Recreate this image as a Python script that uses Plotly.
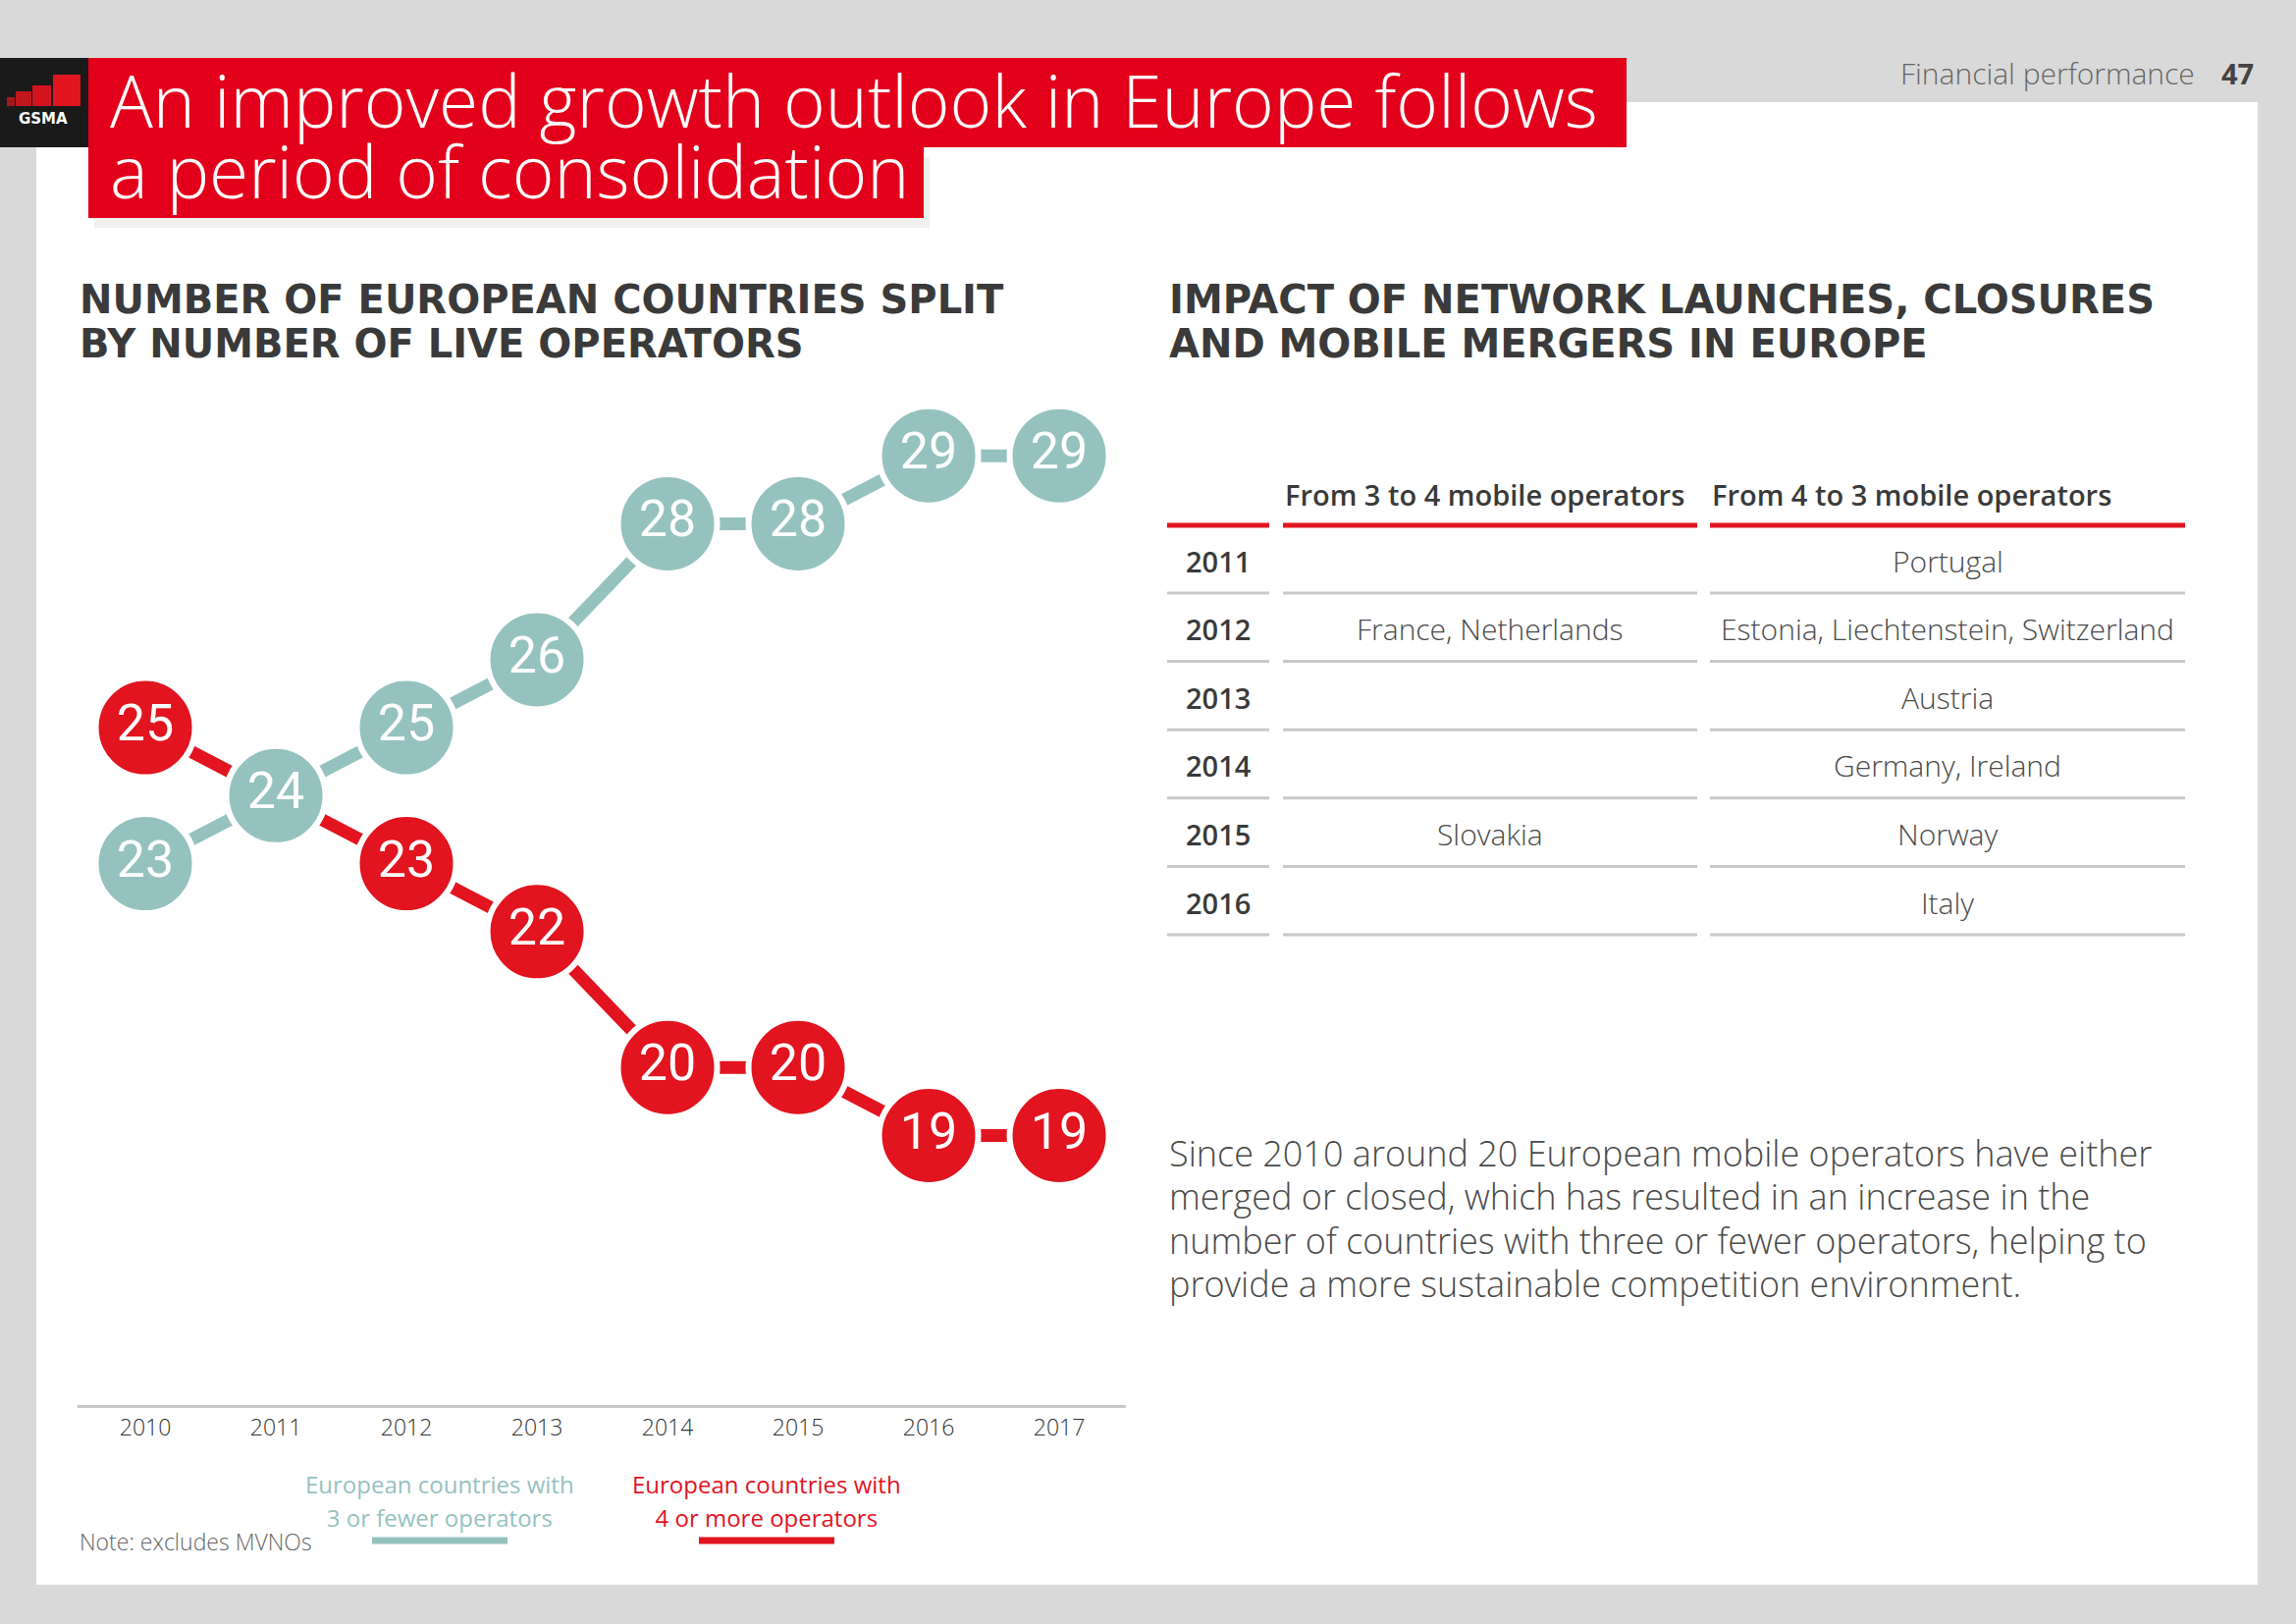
import plotly.graph_objects as go

W, H = 2339, 1654

# --- data ---
years = [2010, 2011, 2012, 2013, 2014, 2015, 2016, 2017]
fewer_ops = [23, 24, 25, 26, 28, 28, 29, 29]   # 3 or fewer operators
more_ops = [25, 24, 23, 22, 20, 20, 19, 19]    # 4 or more operators

table_years = ["2011", "2012", "2013", "2014", "2015", "2016"]
from_3_to_4 = ["", "France, Netherlands", "", "", "Slovakia", ""]
from_4_to_3 = ["Portugal", "Estonia, Liechtenstein, Switzerland", "Austria",
               "Germany, Ireland", "Norway", "Italy"]
table_headers = ["From 3 to 4 mobile operators", "From 4 to 3 mobile operators"]

title_lines = ["An improved growth outlook in Europe follows", "a period of consolidation"]
body_lines = [
    "Since 2010 around 20 European mobile operators have either",
    "merged or closed, which has resulted in an increase in the",
    "number of countries with three or fewer operators, helping to",
    "provide a more sustainable competition environment.",
]

RED = "#e1141f"
TITLE_RED = "#e2001a"
TEAL = "#95c2bf"
DARK = "#3a3a3a"
BODY = "#4a4a4a"
NUM_FONT = "Roboto"


def px(x):
    return x / W


def py(y):
    return 1 - y / H


def block(lines, size):
    # tighter leading: base font sets the line step, span sets glyph size
    return "<br>".join('<span style="font-size:%dpx">%s</span>' % (size, t) for t in lines)


fig = go.Figure()

# connectors first, circles on top
fig.add_trace(go.Scatter(x=years, y=more_ops, mode="lines",
                         line=dict(color=RED, width=13), hoverinfo="skip",
                         showlegend=False))
fig.add_trace(go.Scatter(x=years, y=fewer_ops, mode="lines",
                         line=dict(color=TEAL, width=13), hoverinfo="skip",
                         showlegend=False))
for vals, col in [(more_ops, RED), (fewer_ops, TEAL)]:
    fig.add_trace(go.Scatter(x=years, y=vals, mode="markers+text",
                             text=[str(v) for v in vals],
                             textposition="middle center",
                             textfont=dict(family=NUM_FONT, size=52, color="white"),
                             marker=dict(color=col, size=101, line=dict(color="white", width=6)),
                             cliponaxis=False, showlegend=False))

shapes = []
annotations = []

# background panel
shapes.append(dict(type="rect", xref="paper", yref="paper", layer="below",
                   x0=px(37), x1=px(2300), y0=py(1614), y1=py(104),
                   fillcolor="white", line=dict(width=0)))

# soft shadow under the title block
shapes.append(dict(type="rect", xref="paper", yref="paper", layer="below",
                   x0=px(96), x1=px(947), y0=py(232), y1=py(160),
                   fillcolor="rgba(0,0,0,0.06)", line=dict(width=0)))

# title boxes
shapes.append(dict(type="rect", xref="paper", yref="paper",
                   x0=px(90), x1=px(1657), y0=py(150), y1=py(59),
                   fillcolor=TITLE_RED, line=dict(width=0)))
shapes.append(dict(type="rect", xref="paper", yref="paper",
                   x0=px(90), x1=px(941), y0=py(222), y1=py(150),
                   fillcolor=TITLE_RED, line=dict(width=0)))
# logo
shapes.append(dict(type="rect", xref="paper", yref="paper",
                   x0=0, x1=px(90), y0=py(150), y1=py(59),
                   fillcolor="#1a1a1a", line=dict(width=0)))
for (a, b, top, c) in [(7, 15, 99, "#a8161c"), (16, 32, 93, "#c0161e"),
                       (33, 52, 87, "#d3141f"), (54, 82, 76, "#e2141f")]:
    shapes.append(dict(type="rect", xref="paper", yref="paper",
                       x0=px(a), x1=px(b), y0=py(108), y1=py(top),
                       fillcolor=c, line=dict(width=0)))
annotations.append(dict(x=px(44), y=py(121), xref="paper", yref="paper",
                        xanchor="center", yanchor="middle",
                        text="<b>GSMA</b>", showarrow=False,
                        font=dict(family="DejaVu Sans", size=15, color="white")))

annotations.append(dict(x=px(110), y=py(137), xref="paper", yref="paper",
                        xanchor="left", yanchor="middle", showarrow=False, align="left",
                        text=block(title_lines, 73.5),
                        font=dict(family="Open Sans", weight=300, size=55, color="white")))

# header right
annotations.append(dict(x=px(2238), y=py(75), xref="paper", yref="paper",
                        xanchor="right", yanchor="middle", showarrow=False,
                        text="Financial performance",
                        font=dict(family="Open Sans", weight=300, size=30, color="#666666")))
annotations.append(dict(x=px(2298), y=py(75), xref="paper", yref="paper",
                        xanchor="right", yanchor="middle", showarrow=False,
                        text="<b>47</b>",
                        font=dict(family="Open Sans", size=29, color="#444444")))

# section titles
for x0, lines in [(79, ["NUMBER OF EUROPEAN COUNTRIES SPLIT", "BY NUMBER OF LIVE OPERATORS"]),
                  (1189, ["IMPACT OF NETWORK LAUNCHES, CLOSURES", "AND MOBILE MERGERS IN EUROPE"])]:
    annotations.append(dict(x=px(x0), y=py(327), xref="paper", yref="paper",
                            xanchor="left", yanchor="middle", showarrow=False, align="left",
                            text="<b>" + block(lines, 40) + "</b>",
                            font=dict(family="DejaVu Sans", size=34.6, color=DARK)))

# table
col_spans = [(1189, 1293), (1307, 1729), (1742, 2226)]
header_y = 503
for (a, b), t in zip(col_spans[1:], table_headers):
    annotations.append(dict(x=px(a), y=py(header_y), xref="paper", yref="paper",
                            xanchor="left", yanchor="middle", showarrow=False,
                            text=t,
                            font=dict(family="Open Sans", weight=600, size=29, color=DARK)))
for a, b in col_spans:
    shapes.append(dict(type="line", xref="paper", yref="paper",
                       x0=px(a), x1=px(b), y0=py(535), y1=py(535),
                       line=dict(color=RED, width=5)))
row_h = 69.6
for i, yr in enumerate(table_years):
    yc = 571 + row_h * i
    cells = [yr, from_3_to_4[i], from_4_to_3[i]]
    for j, ((a, b), c) in enumerate(zip(col_spans, cells)):
        if c:
            annotations.append(dict(x=px((a + b) / 2), y=py(yc), xref="paper", yref="paper",
                                    xanchor="center", yanchor="middle", showarrow=False,
                                    text=c,
                                    font=dict(family="Open Sans", size=29 if j == 0 else 30,
                                              weight=600 if j == 0 else 300,
                                              color=DARK if j == 0 else BODY)))
        shapes.append(dict(type="line", xref="paper", yref="paper",
                           x0=px(a), x1=px(b), y0=py(yc + 33), y1=py(yc + 33),
                           line=dict(color="#c9c9c9", width=3)))

# body text
annotations.append(dict(x=px(1189), y=py(1240.75), xref="paper", yref="paper",
                        xanchor="left", yanchor="middle", showarrow=False, align="left",
                        text=block(body_lines, 36),
                        font=dict(family="Open Sans", weight=300, size=34.2, color=BODY)))

# legend
for cx, col, l1, l2 in [(448, TEAL, "European countries with", "3 or fewer operators"),
                        (781, RED, "European countries with", "4 or more operators")]:
    annotations.append(dict(x=px(cx), y=py(1528), xref="paper", yref="paper",
                            xanchor="center", yanchor="middle", showarrow=False, align="center",
                            text=block([l1, l2], 24.5),
                            font=dict(family="Open Sans", weight=500, size=26, color=col)))
    shapes.append(dict(type="line", xref="paper", yref="paper",
                       x0=px(cx - 69), x1=px(cx + 69), y0=py(1569), y1=py(1569),
                       line=dict(color=col, width=7)))

annotations.append(dict(x=px(79), y=py(1570), xref="paper", yref="paper",
                        xanchor="left", yanchor="middle", showarrow=False,
                        text="Note: excludes MVNOs",
                        font=dict(family="Open Sans", weight=300, size=23, color="#666666")))

fig.update_layout(
    width=W, height=H,
    margin=dict(l=0, r=0, t=0, b=0),
    paper_bgcolor="#d9d9d9",
    plot_bgcolor="rgba(0,0,0,0)",
    shapes=shapes,
    annotations=annotations,
    showlegend=False,
    xaxis=dict(domain=[px(79), px(1147)], range=[2009.481, 2017.511],
               showline=True, linecolor="#c8c8c8", linewidth=3,
               showgrid=False, zeroline=False, ticks="",
               tickvals=years, ticktext=[str(y) for y in years],
               tickfont=dict(family="Open Sans", weight=300, size=23, color="#333333")),
    yaxis=dict(domain=[py(1431), py(380)], range=[15.035, 30.216],
               visible=False, showgrid=False, zeroline=False),
)

fig.write_html("out.html", config={"displayModeBar": False},
               post_script="document.body.style.margin='0';")
